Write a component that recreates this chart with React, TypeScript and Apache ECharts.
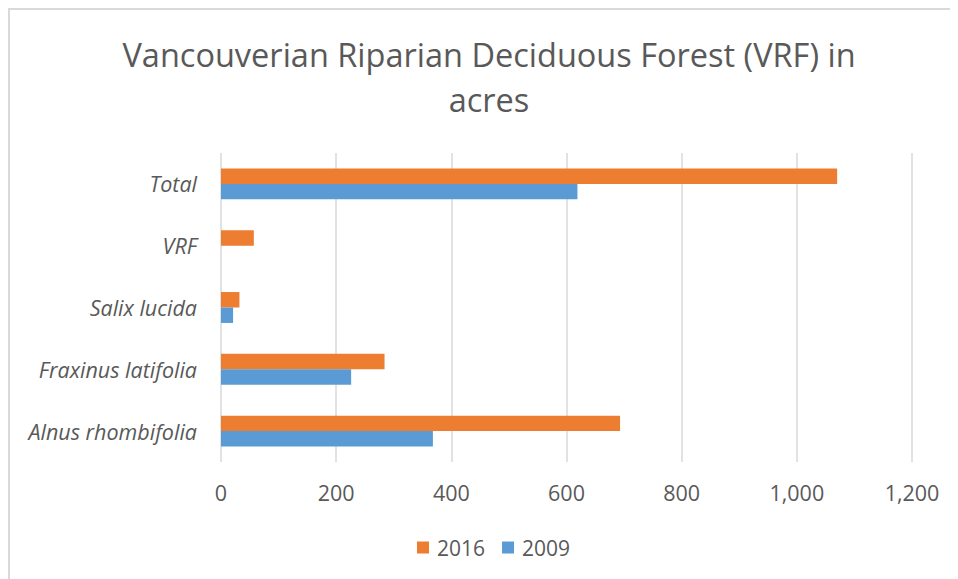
import React, { useEffect, useRef } from "react";
import * as echarts from "echarts";

const categories = ["Alnus rhombifolia", "Fraxinus latifolia", "Salix lucida", "VRF", "Total"];
const values2009 = [368, 226, 21, 0, 619];
const values2016 = [693, 284, 32, 57, 1070];
const seriesNames = ["2016", "2009"];
const titleText = "Vancouverian Riparian Deciduous Forest (VRF) in\nacres";

const FONT = "'Open Sans', sans-serif";
const TEXT = "#595959";

export default function App() {
  const ref = useRef<HTMLDivElement>(null);
  useEffect(() => {
    if (!ref.current) return;
    const chart = echarts.init(ref.current, undefined, { renderer: "svg" });
    chart.setOption({
      animation: false,
      backgroundColor: "#ffffff",
      textStyle: { fontFamily: FONT },
      title: {
        text: titleText,
        left: 476,
        textAlign: "center",
        top: 19,
        textStyle: { fontFamily: FONT, fontSize: 32.5, fontWeight: "normal", color: TEXT, lineHeight: 45 },
      },
      graphic: [
        {
          type: "rect",
          shape: { x: 1, y: 1, width: 1200, height: 1200 },
          style: { fill: "none", stroke: "#d9d9d9", lineWidth: 2 },
          silent: true,
        },
      ],
      legend: {
        data: seriesNames,
        bottom: 16,
        left: 404,
        itemWidth: 12,
        itemHeight: 12,
        itemGap: 17,
        icon: "rect",
        textStyle: { fontFamily: FONT, fontSize: 21, color: TEXT, padding: [0, 0, 0, 3] },
      },
      grid: { left: 213, right: 46, top: 145, bottom: 117, containLabel: false },
      xAxis: {
        type: "value",
        min: 0,
        max: 1200,
        interval: 200,
        axisLine: { show: false },
        axisTick: { show: false },
        splitLine: { show: true, lineStyle: { color: "#d9d9d9", width: 1.5 } },
        axisLabel: {
          fontFamily: FONT,
          fontSize: 21.5,
          color: TEXT,
          margin: 19,
          formatter: (v: number) => v.toLocaleString("en-US"),
        },
      },
      yAxis: {
        type: "category",
        data: categories,
        axisLine: { show: false },
        axisTick: { show: false },
        splitLine: { show: false },
        axisLabel: { fontFamily: FONT, fontSize: 21.5, fontStyle: "italic", color: TEXT, margin: 24 },
      },
      series: [
        {
          name: "2016",
          type: "bar",
          data: values2016,
          itemStyle: { color: "#ED7D31" },
          barGap: "0%",
          barCategoryGap: "50%",
        },
        {
          name: "2009",
          type: "bar",
          data: values2009,
          itemStyle: { color: "#5B9BD5" },
          barGap: "0%",
          barCategoryGap: "50%",
        },
      ],
    });
    return () => chart.dispose();
  }, []);
  return <div ref={ref} style={{ width: 950, height: 571 }} />;
}
